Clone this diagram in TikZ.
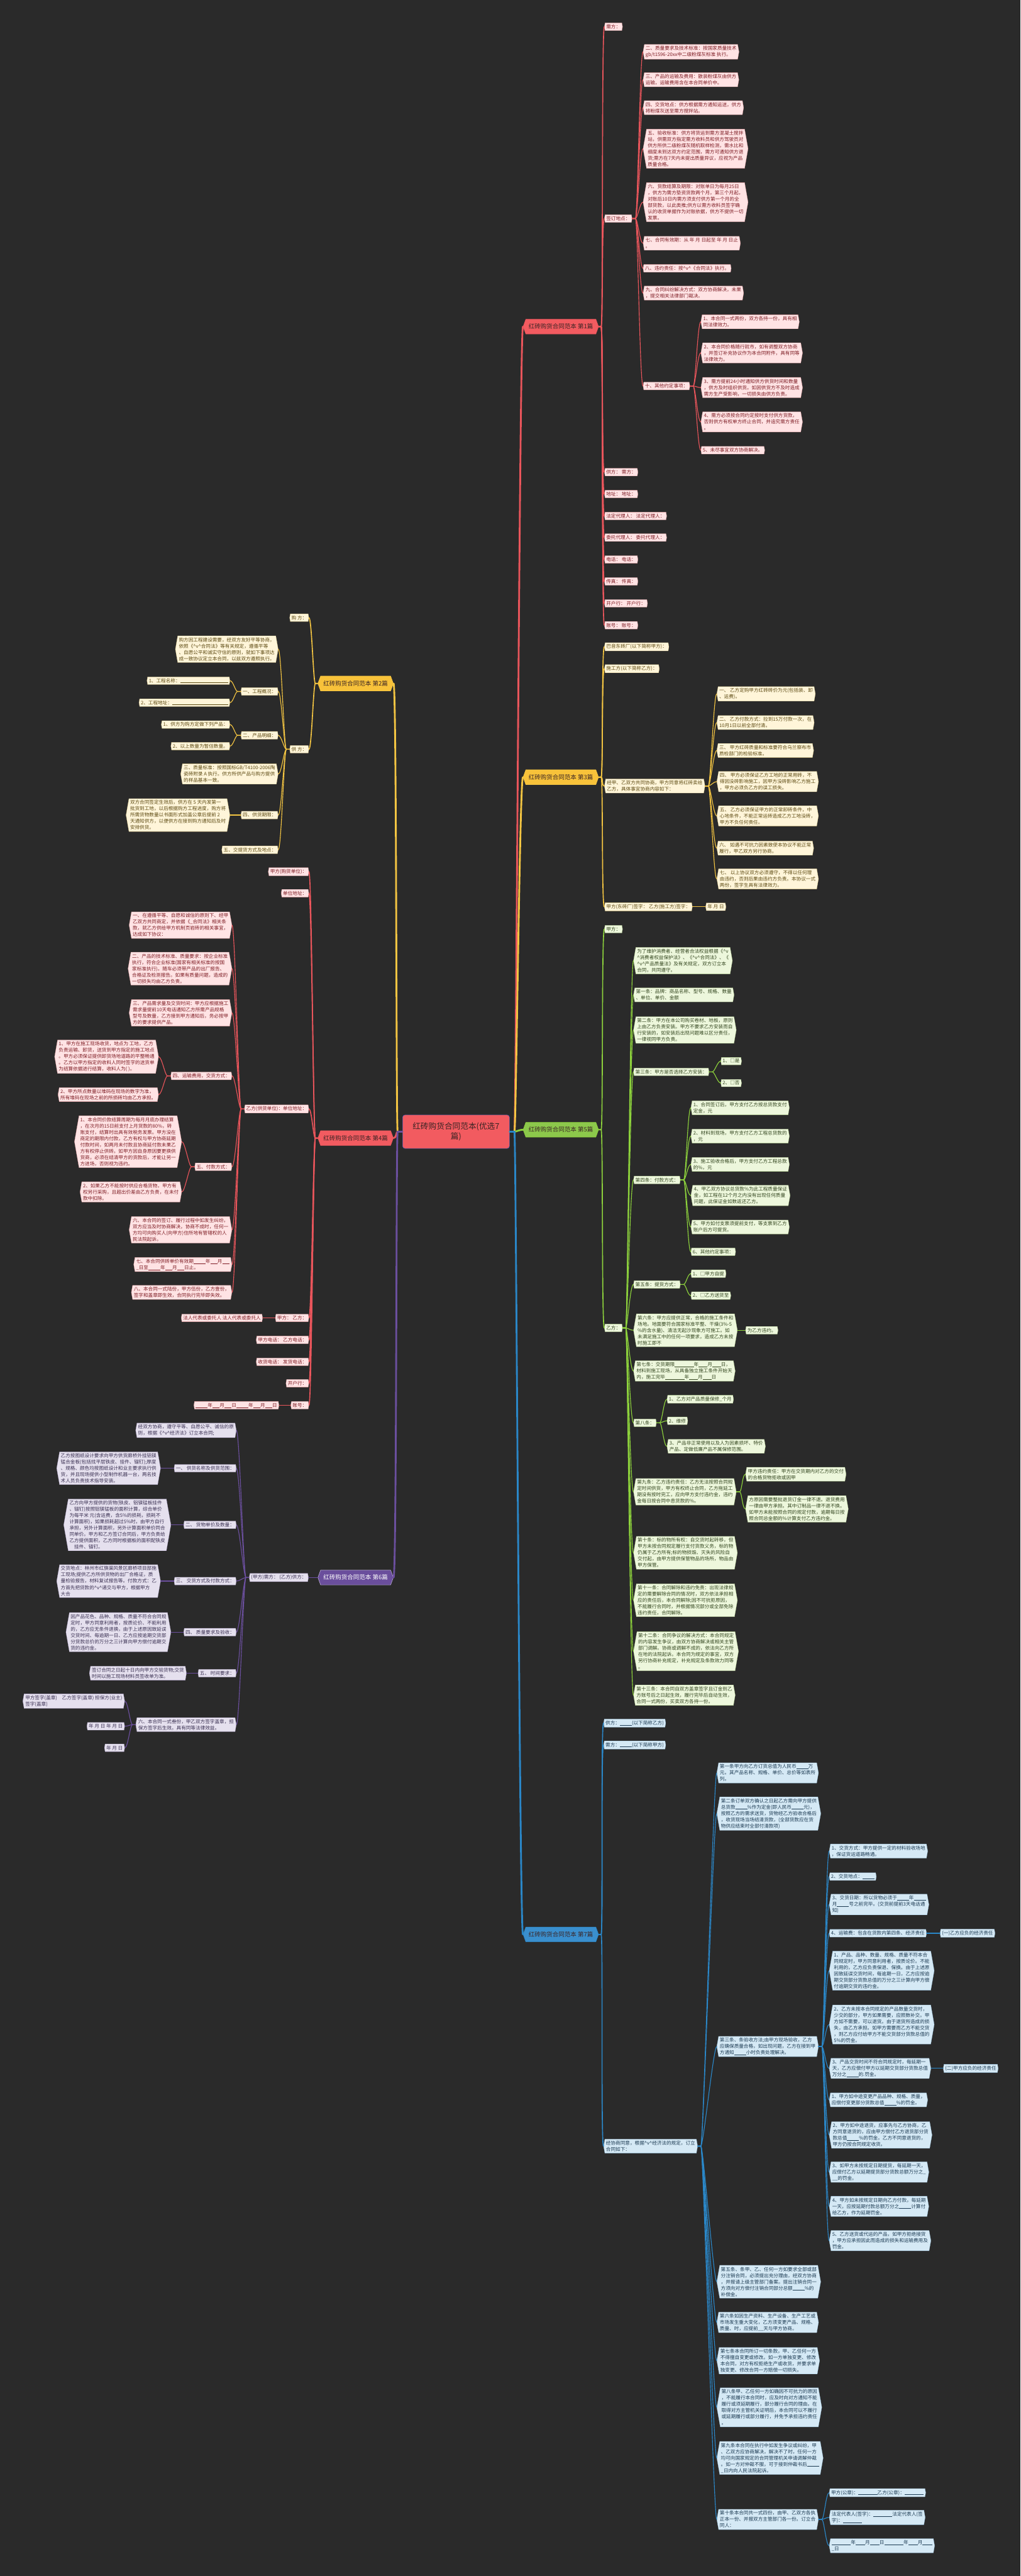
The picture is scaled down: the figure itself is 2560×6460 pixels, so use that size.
\documentclass[tikz,border=0pt]{standalone}
\usepackage{fontspec}
\setmainfont{Noto Sans CJK SC}
\usetikzlibrary{shapes.symbols}
\definecolor{bgdark}{HTML}{2A2A2A}
\definecolor{redline}{HTML}{E9555B}
\definecolor{redhead}{HTML}{F25B60}
\definecolor{redbox}{HTML}{FFE3E4}
\definecolor{redrim}{HTML}{E8A3A6}
\definecolor{redink}{HTML}{7E1D25}
\definecolor{yelline}{HTML}{F4C542}
\definecolor{yelhead}{HTML}{F8C23A}
\definecolor{yelbox}{HTML}{FFF5D9}
\definecolor{yelrim}{HTML}{E5CF8F}
\definecolor{yelink}{HTML}{5C4A12}
\definecolor{grnline}{HTML}{8DD23C}
\definecolor{grnhead}{HTML}{8CC84B}
\definecolor{grnbox}{HTML}{EDF7DC}
\definecolor{grnrim}{HTML}{BFDB9A}
\definecolor{grnink}{HTML}{33461F}
\definecolor{bluline}{HTML}{2A87C8}
\definecolor{bluhead}{HTML}{3A8FCE}
\definecolor{blubox}{HTML}{D5E9F5}
\definecolor{blurim}{HTML}{9CC6E2}
\definecolor{bluink}{HTML}{1C3A52}
\definecolor{purline}{HTML}{6B4F9E}
\definecolor{purhead}{HTML}{6A4E9C}
\definecolor{purbox}{HTML}{E5E0EE}
\definecolor{purrim}{HTML}{B5A8CF}
\definecolor{purink}{HTML}{3A3052}
\definecolor{headink}{HTML}{3A2424}
\definecolor{rootrim}{HTML}{5B5BB0}
\newcommand{\caretv}{\textasciicircum v\textasciicircum}
\newcommand{\blk}[1]{\rule[-1pt]{#1pt}{0.6pt}}

\begin{document}
\begin{tikzpicture}[x=1pt,y=-1pt,
  card/.style={signal,signal to=west and east,signal pointer angle=160,align=left,inner xsep=3pt,inner ysep=4pt,line width=0.5pt,font=\fontsize{12}{15.8}\selectfont},
  rc/.style={card,fill=redbox,draw=redrim,text=redink},
  yc/.style={card,fill=yelbox,draw=yelrim,text=yelink},
  gc/.style={card,fill=grnbox,draw=grnrim,text=grnink},
  bc/.style={card,fill=blubox,draw=blurim,text=bluink},
  pc/.style={card,fill=purbox,draw=purrim,text=purink},
  head/.style={signal,signal to=west and east,signal pointer angle=140,minimum height=37pt,inner xsep=7pt,line width=1pt,text=headink,font=\fontsize{15}{18}\selectfont},
  rl/.style={draw=redline,line cap=round},
  yl/.style={draw=yelline,line cap=round},
  gl/.style={draw=grnline,line cap=round},
  bl/.style={draw=bluline,line cap=round},
  pl/.style={draw=purline,line cap=round},
  trunk/.style={line width=4.5pt},
  limb/.style={line width=2.6pt},
  twig/.style={line width=1.8pt}]
\fill[bgdark] (0,0) rectangle (2560,6460);
\useasboundingbox (0,0) rectangle (2560,6460);

\node[fill=redhead,draw=rootrim,line width=1pt,rounded corners=6pt,text=headink,align=center,font=\fontsize{20}{26}\selectfont,minimum width=268pt,minimum height=84pt] (root) at (1144,2838) {红砖购货合同范本(优选7\\篇)};

% branches
\node[head,fill=redhead,draw=redline,anchor=east] (n1) at (1502,819) {红砖购货合同范本 第1篇};
\node[head,fill=yelhead,draw=yelline,anchor=east] (n3) at (1502,1949) {红砖购货合同范本 第3篇};
\node[head,fill=grnhead,draw=grnline,anchor=east] (n5) at (1502,2833) {红砖购货合同范本 第5篇};
\node[head,fill=bluhead,draw=bluline,anchor=east] (n7) at (1502,4851) {红砖购货合同范本 第7篇};
\node[head,fill=yelhead,draw=yelline,anchor=west] (n2) at (797,1714) {红砖购货合同范本 第2篇};
\node[head,fill=redhead,draw=redline,anchor=west] (n4) at (797,2854) {红砖购货合同范本 第4篇};
\node[head,fill=purhead,draw=purrim,text=white,anchor=west] (n6) at (797,3956) {红砖购货合同范本 第6篇};

% part 1
\node[rc,anchor=west] (n1a) at (1516,67) {需方：};
\node[rc,anchor=west] (n1b) at (1516,548) {签订地点：};
\node[rc,anchor=west] (n1b1) at (1613,130) {二、质量要求及技术标准：按国家质量技术\\gb/t1596-20xx中二级粉煤灰标准 执行。};
\node[rc,anchor=west] (n1b2) at (1613,200) {三、产品的运输及费用：散装粉煤灰由供方\\运输，运输费用含在本合同单价中。};
\node[rc,anchor=west] (n1b3) at (1613,270) {四、交货地点：供方根据需方通知运送，供方\\将粉煤灰送至需方搅拌站。};
\node[rc,anchor=west] (n1b4) at (1613,373) {五、验收标准：供方将货运到需方混凝土搅拌\\站，供需双方指定需方收料员和供方驾驶员对\\供方所供二级粉煤灰随机取样检测，需水比和\\细度未到达双方约定范围，需方可通知供方退\\货;需方在7天内未提出质量异议，应视为产品\\质量合格。};
\node[rc,anchor=west] (n1b5) at (1613,507) {六、货款结算及期限：对账单日为每月25日\\，供方为需方垫资货款两个月，第三个月起，\\对账后10日内需方须支付供方第一个月的全\\部货款，以此类推;供方以需方收料员签字确\\认的收货单据作为对账依据，供方不提供一切\\发票。};
\node[rc,anchor=west] (n1b6) at (1613,610) {七、合同有效期：从 年 月 日起至 年 月 日止\\。};
\node[rc,anchor=west] (n1b7) at (1613,673) {八、违约责任：按\caretv{}《合同法》执行。};
\node[rc,anchor=west] (n1b8) at (1613,735) {九、合同纠纷解决方式：双方协商解决，未果\\，提交相关法律部门裁决。};
\node[rc,anchor=west] (n1b9) at (1613,968) {十、其他约定事项：};
\node[rc,anchor=west] (n1b9a) at (1758,807) {1、本合同一式两份，双方各持一份，具有相\\同法律效力。};
\node[rc,anchor=west] (n1b9b) at (1758,885) {2、本合同价格随行就市，如有调整双方协商\\，并签订补充协议作为本合同附件，具有同等\\法律效力。};
\node[rc,anchor=west] (n1b9c) at (1758,972) {3、需方提前24小时通知供方供货时间和数量\\，供方及时组织供货。如因供货方不及时造成\\需方生产受影响，一切损失由供方负责。};
\node[rc,anchor=west] (n1b9d) at (1758,1058) {4、需方必须按合同约定按时支付供方货款，\\否则供方有权单方终止合同，并追究需方责任\\。};
\node[rc,anchor=west] (n1b9e) at (1758,1129) {5、未尽事宜双方协商解决。};
\node[rc,anchor=west] (n1c) at (1516,1184) {供方：~需方：};
\node[rc,anchor=west] (n1d) at (1516,1239) {地址：~地址：};
\node[rc,anchor=west] (n1e) at (1516,1294) {法定代理人：~法定代理人：};
\node[rc,anchor=west] (n1f) at (1516,1348) {委托代理人：~委托代理人：};
\node[rc,anchor=west] (n1g) at (1516,1403) {电话：~电话：};
\node[rc,anchor=west] (n1h) at (1516,1458) {传真：~传真：};
\node[rc,anchor=west] (n1i) at (1516,1513) {开户行：~开户行：};
\node[rc,anchor=west] (n1j) at (1516,1568) {账号：~账号：};

% part 3
\node[yc,anchor=west] (n3a) at (1516,1622) {巴音东砖厂(以下简称甲方)：};
\node[yc,anchor=west] (n3b) at (1516,1677) {施工方(以下简称乙方)：};
\node[yc,anchor=west] (n3c) at (1516,1971) {经甲、乙双方共同协商，甲方同意将红砖卖给\\乙方，具体事宜协商内容如下：};
\node[yc,anchor=west] (n3c1) at (1798,1740) {一、 乙方定购甲方红砖砖价为元(包括装、卸\\、运费)。};
\node[yc,anchor=west] (n3c2) at (1798,1812) {二、 乙方付款方式：拉到15万付款一次，在\\10月1日以前全部付清。};
\node[yc,anchor=west] (n3c3) at (1798,1882) {三、 甲方红砖质量和标准要符合乌兰察布市\\质检部门的检验标准。};
\node[yc,anchor=west] (n3c4) at (1798,1960) {四、 甲方必须保证乙方工地的正常用砖，不\\得因没砖影响施工，因甲方没砖影响乙方施工\\，甲方必须负乙方的误工损失。};
\node[yc,anchor=west] (n3c5) at (1798,2046) {五、 乙方必须保证甲方的正常卸砖条件，中\\心地条件，不能正常运砖造成乙方工地没砖，\\甲方不负任何责任。};
\node[yc,anchor=west] (n3c6) at (1798,2127) {六、 如遇不可抗力因素致使本协议不能正常\\履行，甲乙双方另行协商。};
\node[yc,anchor=west] (n3c7) at (1798,2204) {七、 以上协议双方必须遵守，不得以任何理\\由违约，否则后果由违约方负责。本协议一式\\两份，签字生具有法律效力。};
\node[yc,anchor=west] (n3d) at (1516,2274) {甲方(东砖厂)签字：~乙方(施工方)签字：};
\node[yc,anchor=west] (n3d1) at (1770,2274) {年 月 日};

% part 5
\node[gc,anchor=west] (n5a) at (1516,2330) {甲方：};
\node[gc,anchor=west] (n5b) at (1516,3330) {乙方：};
\node[gc,anchor=west] (n5p) at (1589,2409) {为了维护消费者、经营者合法权益根据《\textasciicircum v\\\textasciicircum 消费者权益保护法》、《\caretv{}合同法》、《\\\caretv{}产品质量法》及有关规定，双方订立本\\合同，共同遵守。};
\node[gc,anchor=west] (n5t1) at (1589,2495) {第一条：品牌：商品名称、型号、规格、数量\\、单位、单价、金额};
\node[gc,anchor=west] (n5t2) at (1589,2583) {第二条：甲方在本公司购买卷材、地板，原则\\上由乙方负责安装。甲方不要求乙方安装而自\\行安装的，如安装后出现问题难以区分责任，\\一律视同甲方负责。};
\node[gc,anchor=west] (n5t3) at (1589,2688) {第三条：甲方是否选择乙方安装：};
\node[gc,anchor=west] (n5t3a) at (1808,2661) {1、□是};
\node[gc,anchor=west] (n5t3b) at (1808,2716) {2、□否};
\node[gc,anchor=west] (n5t4) at (1589,2959) {第四条：付款方式：};
\node[gc,anchor=west] (n5t4a) at (1733,2778) {1、合同签订后，甲方支付乙方按总货款支付\\定金，元};
\node[gc,anchor=west] (n5t4b) at (1733,2849) {2、材料到现场，甲方支付乙方工程总货款的\\，元};
\node[gc,anchor=west] (n5t4c) at (1733,2920) {3、施工验收合格后，甲方支付乙方工程总款\\的\%，元};
\node[gc,anchor=west] (n5t4d) at (1733,2998) {4、甲乙双方协议总货款\%为此工程质量保证\\金，如工程在12个月之内没有出现任何质量\\问题，此保证金如数返还乙方。};
\node[gc,anchor=west] (n5t4e) at (1733,3077) {5、甲方如付支票须提前支付，等支票到乙方\\账户后方可提货。};
\node[gc,anchor=west] (n5t4f) at (1733,3139) {6、其他约定事项：};
\node[gc,anchor=west] (n5t5) at (1589,3221) {第五条：提货方式：};
\node[gc,anchor=west] (n5t5a) at (1733,3194) {1、□甲方自提};
\node[gc,anchor=west] (n5t5b) at (1733,3249) {2、□乙方送货至};
\node[gc,anchor=west] (n5t6) at (1589,3336) {第六条：甲方应提供正常，合格的施工条件和\\场地。地面要符合国家标准平整、干燥(3\%-5\\\%的含水量)、清洁无起沙现象方可施工。如\\未满足施工中的任何一项要求，造成乙方未按\\时施工即不};
\node[gc,anchor=west] (n5t6a) at (1870,3336) {为乙方违约。};
\node[gc,anchor=west] (n5t7) at (1589,3438) {第七条：交货期限\blk{48}年\blk{22}月\blk{22}日，\\材料到施工现场，从具备独立施工条件开始天\\内，施工完毕\blk{48}年\blk{22}月\blk{22}日};
\node[gc,anchor=west] (n5t8) at (1589,3568) {第八条：};
\node[gc,anchor=west] (n5t8a) at (1673,3509) {1、乙方对产品质量保修\_个月};
\node[gc,anchor=west] (n5t8b) at (1673,3563) {2、维修};
\node[gc,anchor=west] (n5t8c) at (1673,3627) {3、产品非正常使用以及人为因素损坏、特价\\产品、定做低廉产品不属保修范围。};
\node[gc,anchor=west] (n5t9) at (1589,3741) {第九条：乙方违约责任：乙方无法按照合同规\\定时间供货，甲方有权终止合同，乙方拖延工\\期没有按时完工，应向甲方支付违约金，违约\\金每日按合同中息货款的\%。};
\node[gc,anchor=west] (n5t9a) at (1870,3697) {甲方违约责任：甲方在交货期内对乙方的交付\\的合格货物拒收或因甲};
\node[gc,anchor=west] (n5t9b) at (1870,3784) {方原因需要整批退货订金一律不退。退货费用\\一律由甲方承担。其中订制品一律不退不换。\\如甲方未能按照合同的规定付款，逾期每日按\\照合同总金额的\%计算支付乙方违约金。};
\node[gc,anchor=west] (n5t10) at (1589,3894) {第十条：标的物所有权：自交货时起转移，但\\甲方未按合同规定履行支付货款义务，标的物\\仍属于乙方所有;标的物损毁、灭失的风险自\\交付起，由甲方提供保管物品的场所，物品由\\甲方保管。};
\node[gc,anchor=west] (n5t11) at (1589,4013) {第十一条：合同解除和违约免责：出现法律规\\定的需要解除合同的情况时，双方依法承担相\\应的责任后，本合同解除;因不可抗拒原因，\\不能履行合同时，并根据情况部分或全部免除\\违约责任，合同解除。};
\node[gc,anchor=west] (n5t12) at (1589,4141) {第十二条：合同争议的解决方式：本合同规定\\的内容发生争议，由双方协商解决或相关主管\\部门调解。协商或调解不成的，依法向乙方所\\在地的法院起诉。本合同为规定的事宜，双方\\另行协商补充规定，补充规定及条款效力同等\\。};
\node[gc,anchor=west] (n5t13) at (1589,4251) {第十三条：本合同自双方盖章签字且订金到乙\\方账号后之日起生效，履行完毕后自动生效，\\合同一式两份，买卖双方各持一份。};

% part 7
\node[bc,anchor=west] (n7a) at (1514,4321) {供方：\blk{30}(以下简称乙方)};
\node[bc,anchor=west] (n7b) at (1514,4376) {需方：\blk{30}(以下简称甲方)};
\node[bc,anchor=west] (n7c) at (1514,5382) {经协商同意，根据\caretv{}经济法的规定，订立\\合同如下：};
\node[bc,anchor=west] (n7t1) at (1798,4446) {第一条甲方向乙方订货总值为人民币\blk{30}万\\元。其产品名称、规格、单价、总价等如表所\\列。};
\node[bc,anchor=west] (n7t2) at (1798,4548) {第二条订单双方确认之日起乙方需向甲方提供\\总货款\blk{30}\%作为定金(即人民币\blk{30}元)，\\按照乙方的需求送货，货物经乙方验收合格后\\，收货现场当场结清货款，(全部货款应在货\\物供应结束时全部付清款项)};
\node[bc,anchor=west] (n7t3) at (1798,5132) {第三条、条验收方法;由甲方现场验收，乙方\\应确保质量合格，如出现问题，乙方在接到甲\\方通知\blk{30}小时负责处理解决。};
\node[bc,anchor=west] (n7t3a) at (2080,4642) {1、交货方式：甲方提供一定的材料验收场地\\，保证货运道路畅通。};
\node[bc,anchor=west] (n7t3b) at (2080,4706) {2、交货地点：\blk{30}};
\node[bc,anchor=west] (n7t3c) at (2080,4776) {3、交货日期：所以货物必须于\blk{30}年\blk{30}\\月\blk{30}号之前完毕。(交货前提前3天电话通\\知)};
\node[bc,anchor=west] (n7t3d) at (2080,4848) {4、运输费：包含在货款内第四条、经济责任};
\node[bc,anchor=west] (n7t3d1) at (2358,4848) {(一)乙方应负的经济责任};
\node[bc,anchor=west] (n7t3e) at (2080,4942) {1、产品、品种、数量、规格、质量不符本合\\同规定时，甲方同意利用者，按质论价。不能\\利用的，乙方应负责保退、保换。由于上述原\\因致延误交货时间，每逾期一日，乙方应按逾\\期交货部分货款总值的万分之三计算向甲方偿\\付逾期交货的违约金。};
\node[bc,anchor=west] (n7t3f) at (2080,5077) {2、乙方未按本合同规定的产品数量交货时，\\少交的部分，甲方如果需要，应照数补交。甲\\方如不需要，可以退货。由于退货所造成的损\\失，由乙方承担。如甲方需要而乙方不能交货\\，则乙方应付给甲方不能交货部分货款总值的\\5\%的罚金。};
\node[bc,anchor=west] (n7t3g) at (2080,5187) {3、产品交货时间不符合同规定时，每延期一\\天，乙方应偿付甲方以延期交货部分货款总值\\万分之\blk{30}的.罚金。};
\node[bc,anchor=west] (n7t3g1) at (2366,5187) {(二)甲方应负的经济责任};
\node[bc,anchor=west] (n7t3h) at (2080,5266) {1、甲方如中途变更产品品种、规格、质量，\\应偿付变更部分货款总值\blk{30}\%的罚金。};
\node[bc,anchor=west] (n7t3i) at (2080,5354) {2、甲方如中途退货，应事先与乙方协商，乙\\方同意退货的，应由甲方偿付乙方退货部分货\\款总值\blk{30}\%的罚金。乙方不同意退货的，\\甲方仍按合同规定收货。};
\node[bc,anchor=west] (n7t3j) at (2080,5447) {3、如甲方未按规定日期提货，每延期一天，\\应偿付乙方以延期提货部分货款总额万分之\_\\\_\_的罚金。};
\node[bc,anchor=west] (n7t3k) at (2080,5533) {4、甲方如未按规定日期向乙方付款，每延期\\一天，应按延期付款总额万分之\blk{30}计算付\\给乙方，作为延期罚金。};
\node[bc,anchor=west] (n7t3l) at (2080,5619) {5、乙方送货或代运的产品，如甲方拒绝接货\\，甲方应承担因此而造成的损失和运输费用及\\罚金。};
\node[bc,anchor=west] (n7t5) at (1798,5722) {第五条、条甲、乙、任何一方如要求全部或部\\分注销合同，必须提出充分理由，经双方协商\\，并报请上级主管部门备案。提出注销合同一\\方须向对方偿付注销合同部分总额\blk{30}\%的\\补偿金。};
\node[bc,anchor=west] (n7t6) at (1798,5824) {第六条如因生产资料、生产设备、生产工艺或\\市场发生重大变化，乙方须变更产品、规格、\\质量、时，应提前\_\_天与甲方协商。};
\node[bc,anchor=west] (n7t7) at (1798,5920) {第七条本合同所订一切条款，甲、乙任何一方\\不得擅自变更或修改。如一方单独变更、修改\\本合同，对方有权拒绝生产或收货，并要求单\\独变更、修改合同一方赔偿一切损失。};
\node[bc,anchor=west] (n7t8) at (1798,6037) {第八条甲、乙任何一方如确因不可抗力的原因\\，不能履行本合同时，应及时向对方通知不能\\履行或须延期履行，部分履行合同的理由。在\\取得对方主管机关证明后，本合同可以不履行\\或延期履行或部分履行，并免予承担违约责任\\。};
\node[bc,anchor=west] (n7t9) at (1798,6164) {第九条本合同在执行中如发生争议或纠纷，甲\\、乙双方应协商解决，解决不了时，任何一方\\均可向国家规定的合同管理机关申请调解仲裁\\。如一方对仲裁不服，可于接到仲裁书后\blk{30}\\\_日内向人民法院起诉。};
\node[bc,anchor=west] (n7t10) at (1798,6318) {第十条本合同共一式四份，由甲、乙双方各执\\正本一份、并报双方主管部门各一份。订立合\\同人：};
\node[bc,anchor=west] (n7t10a) at (2080,6251) {甲方(公章)：\blk{48}乙方(公章)：\blk{48}};
\node[bc,anchor=west] (n7t10b) at (2080,6313) {法定代表人(签字)：\blk{48}法定代表人(签\\字)：\blk{48}};
\node[bc,anchor=west] (n7t10c) at (2080,6384) {\blk{48}年\blk{24}月\blk{24}日\blk{48}年\blk{24}月\blk{24}\\\_日};

% part 2
\node[yc,anchor=east] (n2a) at (775,1549) {购 方：};
\node[yc,anchor=east] (n2b) at (775,1879) {供 方：};
\node[yc,anchor=east] (n2b1) at (698,1628) {购方因工程建设需要，经双方友好平等协商，\\依照《\caretv{}合同法》等有关规定，遵循平等\\、自愿公平和诚实守信的原则，就如下事项达\\成一致协议定立本合同，以兹双方遵照执行。};
\node[yc,anchor=east] (n2b2) at (698,1734) {一、工程概况：};
\node[yc,anchor=east] (n2b2a) at (577,1707) {1、工程名称：\blk{120}};
\node[yc,anchor=east] (n2b2b) at (577,1762) {2、工程地址：\blk{140}};
\node[yc,anchor=east] (n2b3) at (698,1844) {二、产品明细：};
\node[yc,anchor=east] (n2b3a) at (577,1817) {1、供方为购方定做下列产品：};
\node[yc,anchor=east] (n2b3b) at (577,1871) {2、以上数量为暂估数量。};
\node[yc,anchor=east] (n2b4) at (698,1941) {三、质量标准：按照国标GB/T4100-2006陶\\瓷砖附录 A 执行。供方所供产品与购方提供\\的样品基本一致。};
\node[yc,anchor=east] (n2b5) at (698,2044) {四、供货期限：};
\node[yc,anchor=east] (n2b5a) at (577,2044) {双方合同签定生效后，供方在 5 天内发第一\\批货到工地，以后根据购方工程进度，购方将\\所需货物数量以书面形式加盖公章后提前 2\\天通知供方，以便供方在接到购方通知后及时\\安排供货。};
\node[yc,anchor=east] (n2b6) at (698,2131) {五、交提货方式及地点：};

% part 4
\node[rc,anchor=east] (n4a) at (775,2186) {甲方(购货单位)：};
\node[rc,anchor=east] (n4b) at (775,2240) {单位地址：};
\node[rc,anchor=east] (n4c) at (775,2781) {乙方(供货单位)：单位地址：};
\node[rc,anchor=east] (n4c1) at (582,2320) {一、在遵循平等、自愿和诚信的原则下、经甲\\乙双方共同商定，并依据《\_合同法》相关条\\款，就乙方供给甲方机制页岩砖的相关事宜，\\达成如下协议：};
\node[rc,anchor=east] (n4c2) at (582,2429) {二、产品的技术标准、质量要求：按企业标准\\执行，符合企业标准(国家有相关标准的按国\\家标准执行)。随车必须带产品的出厂报告、\\合格证及检测报告。如果有质量问题，造成的\\一切损失均由乙方负责。};
\node[rc,anchor=east] (n4c3) at (582,2540) {三、产品需求量及交货时间：甲方应根据施工\\需求量提前10天电话通知乙方所需产品规格\\型号及数量，乙方接到甲方通知后，务必按甲\\方的要求提供产品。};
\node[rc,anchor=east] (n4c4) at (582,2698) {四、运输费用，交货方式：};
\node[rc,anchor=east] (n4c4a) at (398,2650) {1、甲方在施工现场收货，地点为 工地，乙方\\负责运输、卸货，送货到甲方指定的施工地点\\。甲方必须保证提供卸货场地道路的平整畅通\\。乙方以甲方指定的收料人同时签字的送货单\\为结算依据进行结算，收料人为( )。};
\node[rc,anchor=east] (n4c4b) at (398,2745) {2、甲方所点数量以堆码在现场的数字为准，\\所有堆码在现场之前的所损砖均由乙方承担。};
\node[rc,anchor=east] (n4c5) at (582,2926) {五、付款方式：};
\node[rc,anchor=east] (n4c5a) at (456,2863) {1、本合同价款结算周期为每月月底办理结算\\，在次月的15日前支付上月货款的80\%，转\\账支付，结算时出具有效税务发票。甲方没在\\商定的期限内付款，乙方有权与甲方协商延期\\付款时间，如两月未付款且协商延付款未果乙\\方有权停止供砖。如甲方因自身原因要更换供\\货商，必须在结清甲方的货款后，才能让另一\\方进场，否则视为违约。};
\node[rc,anchor=east] (n4c5b) at (456,2989) {2、如果乙方不能按时供应合格货物，甲方有\\权另行采购，且超出价差由乙方负责，在未付\\款中扣除。};
\node[rc,anchor=east] (n4c6) at (582,3084) {六、本合同的签订、履行过程中如发生纠纷，\\双方应当及时协商解决，协商不成时，任何一\\方均可向购买人(向甲方)住所地有管辖权的人\\民法院起诉。};
\node[rc,anchor=east] (n4c7) at (582,3171) {七、本合同供砖单价有效期\blk{30}年\blk{18}月\blk{18}\\\_日至\blk{30}年\blk{18}月\blk{18}日止。};
\node[rc,anchor=east] (n4c8) at (582,3241) {八、本合同一式陆份，甲方伍份，乙方壹份，\\签字和盖章即生效，合同执行完毕即失效。};
\node[rc,anchor=east] (n4d) at (775,3305) {甲方：~乙方：};
\node[rc,anchor=east] (n4d1) at (659,3305) {法人代表或委托人 法人代表或委托人};
\node[rc,anchor=east] (n4e) at (775,3360) {甲方电话：~乙方电话：};
\node[rc,anchor=east] (n4f) at (775,3415) {收货电话：~发货电话：};
\node[rc,anchor=east] (n4g) at (775,3469) {开户行：};
\node[rc,anchor=east] (n4h) at (775,3524) {账号：};
\node[rc,anchor=east] (n4h1) at (700,3524) {\blk{30}年\blk{18}月\blk{18}日\blk{30}年\blk{18}月\blk{18}日};

% part 6
\node[pc,anchor=east] (n6a) at (774,3956) {(甲方)需方：~(乙方)供方：};
\node[pc,anchor=east] (n6a1) at (593,3587) {经双方协商，遵守平等、自愿公平、诚信的原\\则，根据《\caretv{}经济法》订立本合同;};
\node[pc,anchor=east] (n6a2) at (593,3682) {一、 供货名称及供货范围：};
\node[pc,anchor=east] (n6a2a) at (403,3682) {乙方按图纸设计要求向甲方供货廊桥外挂铝镁\\锰合金板(包括找平层铁皮、挂件、锚钉);厚度\\、规格、颜色均按图纸设计和业主要求执行供\\货，并且现场提供小型制作机器一台，两名技\\术人员负责技术指导安装。};
\node[pc,anchor=east] (n6a3) at (593,3824) {二、 货物单价及数量：};
\node[pc,anchor=east] (n6a3a) at (429,3824) {乙方向甲方提供的货物(铁皮、铝镁锰板挂件\\、锚钉)按照铝镁锰板的面积计算，综合单价\\为每平米 元(含运费，含5\%的损耗，损耗不\\计算面积)，如果损耗超过5\%时，由甲方自行\\承担，另外计算面积，另外计算面积单价同合\\同单价。甲方和乙方签订合同后，甲方负责给\\乙方提供面积，乙方同时根据板的面积配铁皮\\\quad 挂件、锚钉。};
\node[pc,anchor=east] (n6a4) at (593,3965) {三、 交货方式及付款方式：};
\node[pc,anchor=east] (n6a4a) at (403,3965) {交货地点：林州市红旗渠风景区廊桥项目部施\\工现场;提供乙方所供货物的出厂合格证，质\\量检验报告，材料复试报告等。付款方式：乙\\方首先把贷款的\caretv{}递交与甲方，根据甲方\\大合};
\node[pc,anchor=east] (n6a5) at (593,4093) {四、 质量要求及验收：};
\node[pc,anchor=east] (n6a5a) at (429,4093) {因产品花色、品种、规格、质量不符合合同规\\定时，甲方同意利用者，按质论价、不能利用\\的，乙方应无条件退换，由于上述原因致延误\\交货时间、每逾期一日、乙方应按逾期交货部\\分货款总价的万分之三计算向甲方偿付逾期交\\货的违约金。};
\node[pc,anchor=east] (n6a6) at (593,4196) {五、 时间要求：};
\node[pc,anchor=east] (n6a6a) at (468,4196) {签订合同之日起十日内向甲方交验货物;交货\\时间以施工现场材料员签收单为准。};
\node[pc,anchor=east] (n6a7) at (593,4325) {六、本合同一式叁份，甲乙双方签字盖章，担\\保方签字后生效。具有同等法律效益。};
\node[pc,anchor=east] (n6a7a) at (313,4266) {甲方签字(盖章)\quad 乙方签字(盖章) 担保方(业主)\\签字(盖章)};
\node[pc,anchor=east] (n6a7b) at (313,4329) {年 月 日 年 月 日};
\node[pc,anchor=east] (n6a7c) at (313,4383) {年 月 日};

% root links
\foreach \b/\c in {n1/rl,n3/yl,n5/gl,n7/bl}
  \draw[\c,trunk] (root.east) -- ++(12,0) .. controls +(4,0) and +(-8,0) .. (\b.west);
\foreach \b/\c in {n2/yl,n4/rl,n6/pl}
  \draw[\c,trunk] (root.west) -- ++(-12,0) .. controls +(-4,0) and +(8,0) .. (\b.east);

% links, right side
\foreach \c in {n1a,n1b,n1c,n1d,n1e,n1f,n1g,n1h,n1i,n1j}
  \draw[rl,limb] (n1.east) -- ++(6,0) .. controls +(5,0) and +(-7,0) .. (\c.west);
\foreach \c in {n1b1,n1b2,n1b3,n1b4,n1b5,n1b6,n1b7,n1b8,n1b9}
  \draw[rl,twig] (n1b.east) -- ++(8,0) .. controls +(6,0) and +(-8,0) .. (\c.west);
\foreach \c in {n1b9a,n1b9b,n1b9c,n1b9d,n1b9e}
  \draw[rl,twig] (n1b9.east) -- ++(8,0) .. controls +(6,0) and +(-8,0) .. (\c.west);
\foreach \c in {n3a,n3b,n3c,n3d}
  \draw[yl,limb] (n3.east) -- ++(6,0) .. controls +(5,0) and +(-7,0) .. (\c.west);
\foreach \c in {n3c1,n3c2,n3c3,n3c4,n3c5,n3c6,n3c7}
  \draw[yl,twig] (n3c.east) -- ++(8,0) .. controls +(6,0) and +(-8,0) .. (\c.west);
\draw[yl,twig] (n3d.east) -- (n3d1.west);
\foreach \c in {n5a,n5b}
  \draw[gl,limb] (n5.east) -- ++(6,0) .. controls +(5,0) and +(-7,0) .. (\c.west);
\foreach \c in {n5p,n5t1,n5t2,n5t3,n5t4,n5t5,n5t6,n5t7,n5t8,n5t9,n5t10,n5t11,n5t12,n5t13}
  \draw[gl,twig] (n5b.east) -- ++(8,0) .. controls +(4,0) and +(-8,0) .. (\c.west);
\foreach \p/\c in {n5t3/n5t3a,n5t3/n5t3b,n5t4/n5t4a,n5t4/n5t4b,n5t4/n5t4c,n5t4/n5t4d,n5t4/n5t4e,n5t4/n5t4f,n5t5/n5t5a,n5t5/n5t5b,n5t6/n5t6a,n5t8/n5t8a,n5t8/n5t8b,n5t8/n5t8c,n5t9/n5t9a,n5t9/n5t9b}
  \draw[gl,twig] (\p.east) -- ++(8,0) .. controls +(6,0) and +(-8,0) .. (\c.west);
\foreach \c in {n7a,n7b,n7c}
  \draw[bl,limb] (n7.east) -- ++(6,0) .. controls +(5,0) and +(-7,0) .. (\c.west);
\foreach \c in {n7t1,n7t2,n7t3,n7t5,n7t6,n7t7,n7t8,n7t9,n7t10}
  \draw[bl,twig] (n7c.east) -- ++(8,0) .. controls +(6,0) and +(-8,0) .. (\c.west);
\foreach \c in {n7t3a,n7t3b,n7t3c,n7t3d,n7t3e,n7t3f,n7t3g,n7t3h,n7t3i,n7t3j,n7t3k,n7t3l}
  \draw[bl,twig] (n7t3.east) -- ++(8,0) .. controls +(6,0) and +(-8,0) .. (\c.west);
\foreach \p/\c in {n7t3d/n7t3d1,n7t3g/n7t3g1,n7t10/n7t10a,n7t10/n7t10b,n7t10/n7t10c}
  \draw[bl,twig] (\p.east) -- ++(8,0) .. controls +(6,0) and +(-8,0) .. (\c.west);

% links, left side
\foreach \c in {n2a,n2b}
  \draw[yl,limb] (n2.west) -- ++(-6,0) .. controls +(-5,0) and +(7,0) .. (\c.east);
\foreach \c in {n2b1,n2b2,n2b3,n2b4,n2b5,n2b6}
  \draw[yl,twig] (n2b.west) -- ++(-8,0) .. controls +(-6,0) and +(8,0) .. (\c.east);
\foreach \p/\c in {n2b2/n2b2a,n2b2/n2b2b,n2b3/n2b3a,n2b3/n2b3b,n2b5/n2b5a}
  \draw[yl,twig] (\p.west) -- ++(-8,0) .. controls +(-6,0) and +(8,0) .. (\c.east);
\foreach \c in {n4a,n4b,n4c,n4d,n4e,n4f,n4g,n4h}
  \draw[rl,limb] (n4.west) -- ++(-6,0) .. controls +(-5,0) and +(7,0) .. (\c.east);
\foreach \c in {n4c1,n4c2,n4c3,n4c4,n4c5,n4c6,n4c7,n4c8}
  \draw[rl,twig] (n4c.west) -- ++(-8,0) .. controls +(-6,0) and +(8,0) .. (\c.east);
\foreach \p/\c in {n4c4/n4c4a,n4c4/n4c4b,n4c5/n4c5a,n4c5/n4c5b,n4d/n4d1,n4h/n4h1}
  \draw[rl,twig] (\p.west) -- ++(-8,0) .. controls +(-6,0) and +(8,0) .. (\c.east);
\draw[pl,limb] (n6.west) -- (n6a.east);
\foreach \c in {n6a1,n6a2,n6a3,n6a4,n6a5,n6a6,n6a7}
  \draw[pl,twig] (n6a.west) -- ++(-8,0) .. controls +(-6,0) and +(8,0) .. (\c.east);
\foreach \p/\c in {n6a2/n6a2a,n6a3/n6a3a,n6a4/n6a4a,n6a5/n6a5a,n6a6/n6a6a,n6a7/n6a7a,n6a7/n6a7b,n6a7/n6a7c}
  \draw[pl,twig] (\p.west) -- ++(-8,0) .. controls +(-6,0) and +(8,0) .. (\c.east);
\end{tikzpicture}
\end{document}
